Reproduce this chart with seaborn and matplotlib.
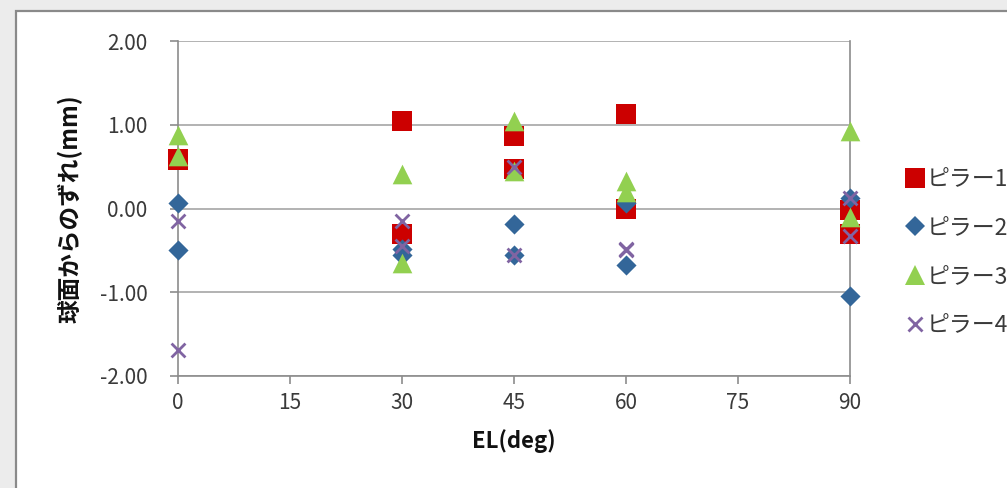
import matplotlib
matplotlib.use("Agg")
import matplotlib.pyplot as plt
from matplotlib.patches import Rectangle
from matplotlib.lines import Line2D
import seaborn as sns
import pandas as pd

# Measured deviations from the spherical surface at each elevation angle
el_deg = [0, 0, 30, 30, 45, 45, 60, 60, 90, 90]
pillar1 = [0.59, 0.58, 1.05, -0.30, 0.86, 0.47, 1.13, 0.00, -0.02, -0.31]
pillar2 = [0.07, -0.49, -0.48, -0.55, -0.18, -0.55, 0.07, -0.67, 0.12, -1.04]
pillar3 = [0.88, 0.63, 0.41, -0.65, 1.05, 0.45, 0.33, 0.20, 0.92, -0.10]
pillar4 = [-0.15, -1.69, -0.15, -0.45, 0.50, -0.55, -0.48, -0.49, 0.13, -0.33]
series_names = ["ピラー1", "ピラー2", "ピラー3", "ピラー4"]
x_ticks = [0, 15, 30, 45, 60, 75, 90]
y_ticks = [-2.0, -1.0, 0.0, 1.0, 2.0]

sns.set_theme(style="white")
plt.rcParams["font.family"] = ["Noto Sans CJK JP", "DejaVu Sans"]

frames = []
for name, vals in zip(series_names, [pillar1, pillar2, pillar3, pillar4]):
    frames.append(pd.DataFrame({"EL": el_deg, "dev": vals, "series": name}))
df = pd.concat(frames, ignore_index=True)

styles = {
    "ピラー1": dict(marker="s", s=200, color="#CC0000", linewidth=0),
    "ピラー2": dict(marker="D", s=105, color="#336699", linewidth=0),
    "ピラー3": dict(marker="^", s=200, color="#92D050", linewidth=0),
    "ピラー4": dict(marker="x", s=100, color="#8064A2", linewidth=2.0),
}

fig = plt.figure(figsize=(10.07, 4.88), dpi=100)
fig.patch.set_facecolor("#ececec")
# white chart area with a grey frame on its left and top edges
frame = Rectangle((16 / 1007, -0.01), 1.0, (488 - 11) / 488 + 0.01,
                  transform=fig.transFigure, facecolor="white",
                  edgecolor="#8a8a8a", linewidth=1.6, zorder=-10)
fig.patches.append(frame)

ax = fig.add_axes([178 / 1007, 112 / 488, 672 / 1007, 335 / 488])
ax.set_facecolor("none")

handles = []
for name in series_names:
    st = styles[name]
    sub = df[df["series"] == name]
    sns.scatterplot(data=sub, x="EL", y="dev", ax=ax, marker=st["marker"],
                    s=st["s"], color=st["color"], linewidth=st["linewidth"],
                    edgecolor=st["color"] if st["marker"] != "x" else None,
                    clip_on=False, zorder=3, legend=False)
    ms = st["s"] ** 0.5
    handles.append(Line2D([], [], linestyle="none", marker=st["marker"],
                          markersize=ms, color=st["color"],
                          markeredgewidth=st["linewidth"] if st["marker"] == "x" else 0,
                          label=name))

ax.set_xlim(0, 90)
ax.set_ylim(-2, 2)
ax.set_xticks(x_ticks)
ax.set_yticks(y_ticks)
ax.set_yticklabels([f"{v:.2f}" for v in y_ticks])
ax.yaxis.grid(True, color="#a6a6a6", linewidth=1.2)
ax.xaxis.grid(False)
ax.set_axisbelow(True)

for side in ["left", "bottom", "right"]:
    ax.spines[side].set_visible(True)
    ax.spines[side].set_color("#8c8c8c")
    ax.spines[side].set_linewidth(1.2)
ax.spines["top"].set_visible(False)

ax.tick_params(axis="y", which="major", direction="out", length=6, width=1.2,
               color="#8c8c8c", pad=16, labelsize=15, labelcolor="#3a3a3a",
               left=True)
ax.tick_params(axis="x", which="major", direction="out", length=5.5, width=1.2,
               color="#8c8c8c", pad=6, labelsize=15, labelcolor="#3a3a3a",
               bottom=True)

ax.set_xlabel("EL(deg)", fontsize=16, fontweight="bold", color="#111111")
ax.set_ylabel("球面からのずれ(mm)", fontsize=17, fontweight="bold", color="#111111")
ax.xaxis.set_label_coords(0.5, -0.16)
ax.yaxis.set_label_coords(-0.142, 0.5)

leg = ax.legend(handles=handles, loc="center left",
                bbox_to_anchor=(1.066, 0.37), frameon=False, fontsize=16.5,
                handletextpad=0.02, handlelength=1.0, labelspacing=1.12,
                borderaxespad=0)
for t in leg.get_texts():
    t.set_color("#3a3a3a")

fig.savefig("out.png", dpi=100)
